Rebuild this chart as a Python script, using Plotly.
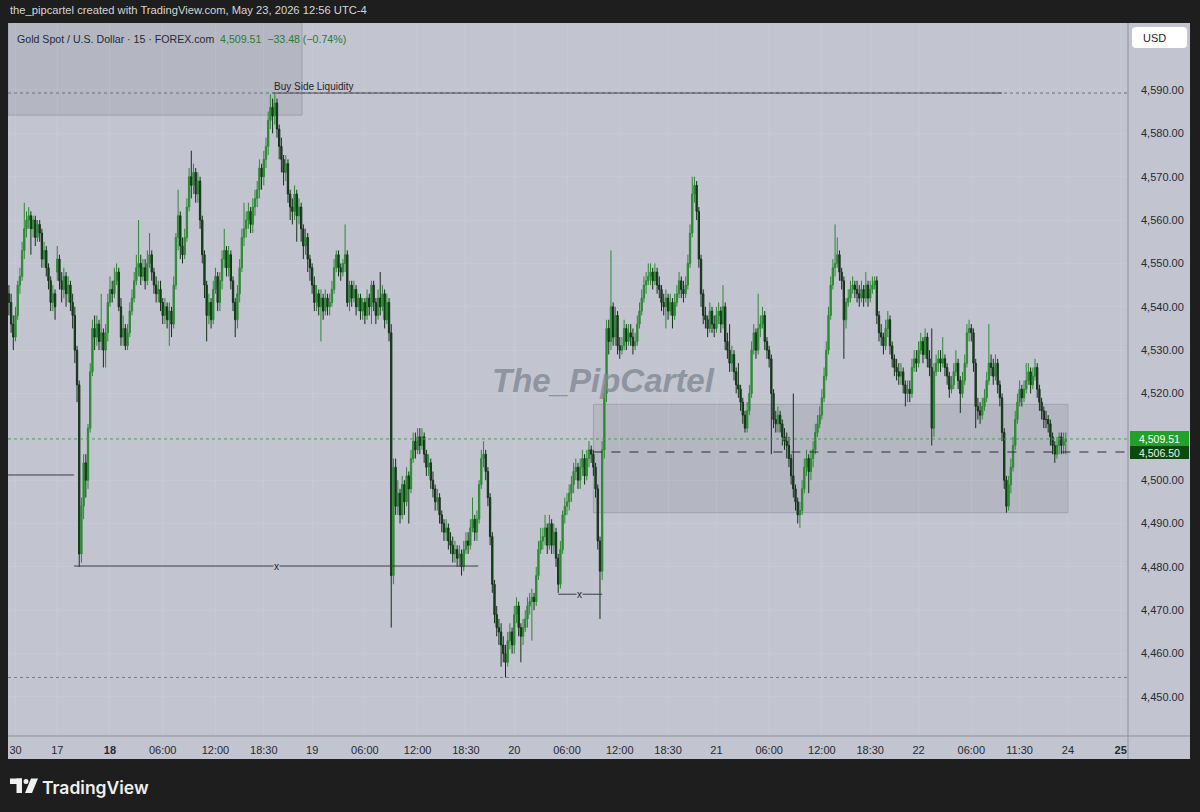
import plotly.graph_objects as go

# ---------------- data (15-minute bars, XAU/USD) ----------------
# session start, in trading hours counted from May 18 00:00 (daily break 17:00-18:00, weekend removed)
session_start_h = [-11.5, -6, 0, 23, 46, 69, 92]

fri15_open0 = 4543
fri15_close = [4541,4536,4533,4538,4545,4547,4553,4558,4560,4561,4558,4560,4556,4559,4557,4551,4553,4549,4546,4541,4543,4540]
fri15_high = [4545,4543,4538,4540,4546,4549,4555,4564,4562,4563,4562,4561,4561,4560,4560,4558,4555,4554,4550,4547,4545,4544]
fri15_low = [4538,4534,4530,4532,4537,4543,4546,4551,4556,4558,4552,4556,4554,4555,4555,4549,4549,4547,4544,4539,4539,4537]

sun17_open0 = 4548
sun17_close = [4551,4546,4544,4547,4543,4545,4541,4538,4530,4522,4483,4494,4504,4500,4512,4525,4535,4533,4536,4532,4534,4530,4534,4541]
sun17_high = [4554,4552,4548,4549,4548,4547,4546,4543,4540,4531,4523,4496,4506,4506,4513,4527,4537,4538,4538,4537,4543,4535,4536,4543]
sun17_low = [4546,4544,4541,4542,4540,4541,4539,4535,4527,4518,4480,4481,4491,4496,4498,4511,4524,4530,4531,4530,4530,4526,4526,4532]

mon18_open0 = 4541
mon18_close = [4544,4543,4546,4548,4540,4533,4535,4531,4534,4539,
               4542,4546,4549,4550,4547,4549,4546,4550,4552,4548,
               4545,4543,4544,4541,4538,4540,4537,4539,4536,4545,
               4556,4561,4554,4552,4556,4563,4570,4568,4571,4566,
               4569,4560,4552,4545,4538,4541,4537,4544,4547,4541,
               4546,4551,4553,4549,4552,4546,4541,4537,4543,4549,
               4556,4558,4560,4562,4559,4563,4565,4567,4572,4570,
               4574,4577,4583,4586,4584,4587,4581,4577,4574,4571,
               4573,4566,4563,4562,4566,4561,4563,4558,4554,4556,
               4551,4549]
mon18_high = [4547,4546,4549,4550,4549,4542,4538,4536,4536,4541,
              4544,4548,4552,4560,4552,4551,4551,4553,4557,4553,
              4549,4547,4546,4546,4542,4542,4541,4541,4540,4547,
              4557,4567,4562,4556,4558,4565,4572,4576,4573,4572,
              4571,4570,4561,4553,4546,4543,4542,4546,4549,4548,
              4548,4553,4558,4554,4554,4553,4547,4542,4545,4551,
              4558,4564,4562,4564,4563,4565,4567,4569,4574,4573,
              4576,4579,4585,4589,4588,4589.3,4588,4582,4579,4575,
              4575,4574,4567,4565,4568,4567,4565,4564,4559,4558,
              4557,4552]
mon18_low = [4540,4541,4542,4545,4539,4531,4531,4530,4530,4533,
             4538,4541,4545,4547,4545,4546,4544,4545,4549,4546,
             4543,4541,4541,4539,4536,4536,4535,4531,4533,4535,
             4544,4553,4551,4550,4551,4555,4562,4565,4566,4564,
             4564,4558,4550,4542,4532,4536,4535,4536,4543,4539,
             4539,4544,4549,4547,4547,4544,4539,4533,4535,4541,
             4548,4554,4556,4558,4557,4557,4561,4563,4565,4567,
             4568,4572,4575,4581,4580,4582,4579,4574,4571,4568,
             4569,4564,4560,4559,4560,4555,4559,4555,4551,4552,
             4548,4546]

tue19_open0 = 4549
tue19_close = [4545,4541,4543,4540,4542,4539,4542,4540,4541,4544,
               4549,4552,4549,4548,4550,4552,4541,4545,4542,4544,
               4540,4542,4539,4541,4538,4542,4540,4545,4541,4538,
               4542,4540,4543,4537,4541,4534,4478,4503,4494,4497,
               4492,4499,4495,4501,4498,4505,4509,4507,4510,4508,
               4510,4506,4503,4504,4500,4498,4495,4496,4492,4490,
               4488,4489,4486,4485,4483,4484,4482,4483,4480,4484,
               4486,4485,4489,4491,4488,4491,4499,4505,4506,4502,
               4496,4487,4476,4469,4466,4465,4462,4460,4458,4463,
               4465,4462]
tue19_high = [4550,4547,4545,4544,4544,4543,4544,4543,4543,4546,
              4551,4553,4553,4550,4551,4559,4553,4546,4546,4546,
              4545,4543,4543,4542,4542,4544,4543,4546,4546,4542,
              4544,4548,4545,4544,4543,4542,4536,4505,4505,4500,
              4498,4501,4500,4503,4502,4507,4511,4511,4512,4512,
              4512,4511,4507,4506,4505,4502,4499,4498,4497,4493,
              4491,4491,4490,4488,4487,4486,4485,4485,4484,4486,
              4488,4488,4491,4496,4492,4493,4500,4507,4509,4507,
              4503,4497,4488,4477,4471,4468,4467,4464,4462,4465,
              4467,4466]
tue19_low = [4543,4539,4539,4538,4532,4537,4538,4538,4538,4540,
             4543,4548,4547,4546,4547,4548,4540,4539,4540,4541,
             4538,4539,4537,4537,4536,4537,4538,4536,4539,4536,
             4537,4538,4539,4535,4536,4532,4466,4476,4492,4492,
             4490,4491,4492,4494,4490,4497,4504,4505,4506,4506,
             4507,4504,4501,4501,4498,4496,4493,4493,4490,4488,
             4486,4486,4484,4483,4481,4481,4480,4480,4478,4479,
             4483,4483,4484,4488,4486,4486,4490,4498,4503,4500,
             4494,4485,4474,4467,4464,4462,4457,4458,4454.5,4457,
             4461,4460]

wed20_open0 = 4462
wed20_close = [4469,4471,4466,4464,4466,4468,4471,4472,4473,4472,
               4478,4484,4486,4487,4489,4485,4490,4485,4488,4482,
               4476,4484,4492,4494,4495,4497,4499,4502,4503,4500,
               4503,4505,4501,4505,4507,4506,4503,4498,4486,4479,
               4507,4520,4535,4532,4540,4533,4538,4531,4530,4531,
               4535,4532,4534,4533,4531,4532,4536,4539,4542,4545,
               4546,4547,4548,4546,4548,4545,4544,4541,4540,4542,
               4539,4541,4538,4541,4543,4546,4544,4543,4545,4550,
               4557,4566,4568,4562,4551,4543,4538,4537,4535,4539,
               4536,4535]
wed20_high = [4471,4473,4472,4467,4468,4470,4473,4474,4475,4474,
              4480,4486,4489,4489,4492,4490,4492,4491,4490,4489,
              4483,4486,4493,4496,4497,4499,4501,4504,4505,4504,
              4505,4507,4506,4507,4509,4508,4507,4504,4499,4487,
              4509,4522,4537,4537,4553,4541,4540,4539,4533,4533,
              4537,4536,4536,4536,4535,4534,4538,4541,4544,4547,
              4548,4550,4550,4549,4550,4549,4547,4545,4543,4544,
              4543,4543,4542,4543,4545,4548,4547,4546,4547,4552,
              4559,4570,4570,4569,4563,4552,4544,4540,4538,4541,
              4540,4538]
wed20_low = [4460,4467,4464,4458,4462,4465,4466,4469,4463,4470,
             4471,4477,4483,4484,4485,4483,4484,4483,4483,4480,
             4474,4475,4483,4490,4492,4493,4495,4497,4500,4498,
             4498,4501,4499,4500,4503,4504,4501,4496,4484,4468,
             4477,4505,4518,4529,4530,4531,4531,4529,4528,4529,
             4530,4530,4531,4531,4529,4530,4531,4535,4538,4541,
             4543,4545,4545,4544,4545,4543,4542,4539,4538,4535,
             4537,4538,4535,4537,4540,4542,4542,4541,4542,4544,
             4549,4556,4564,4560,4549,4540,4536,4535,4533,4534,
             4534,4533]

thu21_open0 = 4535
thu21_close = [4538,4539,4536,4540,4532,4530,4527,4529,4525,4522,
               4521,4518,4515,4512,4516,4520,4530,4534,4530,4535,
               4536,4538,4532,4530,4528,4520,4514,4513,4515,4513,
               4510,4509,4508,4505,4501,4498,4495,4492,4493,4498,
               4503,4505,4502,4505,4507,4511,4513,4515,4519,4524,
               4530,4538,4545,4549,4550,4552,4548,4546,4537,4541,
               4542,4544,4545,4544,4543,4542,4544,4542,4545,4542,
               4544,4545,4546,4538,4534,4533,4531,4535,4537,4531,
               4528,4526,4525,4524,4525,4522,4520,4521,4520,4526,
               4528,4527]
thu21_high = [4540,4541,4540,4545,4541,4534,4536,4531,4530,4526,
              4527,4522,4519,4516,4518,4522,4532,4536,4535,4543,
              4538,4540,4539,4533,4531,4529,4521,4516,4517,4516,
              4514,4512,4511,4510,4506,4520,4499,4496,4495,4500,
              4505,4507,4506,4507,4509,4513,4515,4517,4521,4526,
              4532,4540,4547,4551,4559,4556,4553,4549,4547,4542,
              4544,4546,4547,4546,4546,4545,4546,4545,4548,4546,
              4546,4547,4547,4547,4539,4536,4534,4537,4539,4538,
              4532,4529,4528,4527,4527,4526,4523,4523,4523,4528,
              4530,4530]
thu21_low = [4534,4536,4534,4535,4530,4528,4525,4525,4523,4520,
             4519,4516,4513,4511,4511,4515,4519,4529,4528,4529,
             4533,4535,4530,4528,4526,4506,4512,4511,4511,4511,
             4508,4507,4505,4503,4499,4496,4493,4490,4489,4492,
             4497,4501,4497,4500,4503,4506,4510,4512,4514,4518,
             4523,4529,4537,4544,4547,4549,4546,4544,4528,4535,
             4540,4541,4543,4542,4541,4540,4541,4540,4541,4540,
             4541,4543,4544,4536,4532,4531,4529,4530,4533,4529,
             4526,4524,4523,4522,4522,4520,4517,4518,4518,4519,
             4525,4525]

fri22_open0 = 4527
fri22_close = [4530,4532,4529,4533,4528,4526,4512,4525,4527,4528,
               4527,4528,4526,4524,4521,4522,4525,4527,4523,4520,
               4523,4527,4534,4535,4534,4527,4517,4516,4515,4517,
               4519,4523,4527,4526,4524,4527,4522,4519,4511,4500,
               4494,4499,4503,4508,4514,4518,4521,4519,4521,4523,
               4525,4522,4524,4526,4521,4518,4516,4514,4514,4513,
               4510,4508,4506,4508,4510,4508,4509,4509.51]
fri22_high = [4532,4534,4533,4535,4534,4530,4535,4527,4529,4530,
              4530,4533,4529,4527,4525,4524,4527,4530,4528,4524,
              4525,4529,4536,4537,4536,4535,4528,4519,4518,4519,
              4521,4525,4536,4529,4528,4529,4528,4523,4520,4512,
              4501,4501,4505,4510,4516,4520,4523,4522,4523,4527,
              4527,4526,4526,4528,4527,4522,4519,4517,4516,4515,
              4514,4511,4509,4510,4511,4511,4511,4511]
fri22_low = [4526,4529,4527,4528,4526,4524,4508,4510,4524,4525,
             4525,4526,4524,4522,4519,4520,4521,4524,4521,4515.5,
             4519,4522,4526,4532,4532,4525,4512,4514,4513,4514,
             4516,4518,4522,4524,4522,4523,4520,4517,4509,4498,
             4492.5,4493,4497,4502,4507,4513,4517,4517,4518,4520,
             4522,4520,4521,4523,4519,4516,4514,4512,4512,4511,
             4508,4506,4504,4505,4506,4506,4506,4506]

# time-axis ticks (trading hours) and their labels
tick_hours = [-10.75, -6, 0, 6, 12, 17.5, 23, 29, 35, 40.5, 46, 52, 58, 63.5, 69, 75, 81, 86.5, 92, 98, 103.5, 109, 115]
tick_labels = ["30", "17", "<b>18</b>", "06:00", "12:00", "18:30", "19", "06:00", "12:00", "18:30", "20",
               "06:00", "12:00", "18:30", "21", "06:00", "12:00", "18:30", "22", "06:00", "11:30", "24", "<b>25</b>"]
# 4,510.00 is hidden behind the price badges in the reference
price_ticks = [4450, 4460, 4470, 4480, 4490, 4500, 4520, 4530, 4540, 4550, 4560, 4570, 4580, 4590]

# header / legend values
last_price = 4509.51
change_abs = -33.48
change_pct = -0.74

# drawings (time in trading hours, price)
bsl_level = 4589.3
bsl_start_h, bsl_end_h = 18.5, 101.5
top_zone = (-11.6, 21.85, 4584.2, 4606.0)
fvg_zone = (55.0, 109.0, 4492.5, 4517.5)
mid_level = 4506.5
low_level = 4454.5
eq_level_a = (4501.2, -11.6, -4.1)
eq_level_b = (4480.2, -4.1, 41.9, 18.9)
eq_level_c = (4473.7, 51.0, 56.0, 53.4)

# ---------------- build bars ----------------
sessions = [
    (fri15_open0, fri15_close, fri15_high, fri15_low),
    (sun17_open0, sun17_close, sun17_high, sun17_low),
    (mon18_open0, mon18_close, mon18_high, mon18_low),
    (tue19_open0, tue19_close, tue19_high, tue19_low),
    (wed20_open0, wed20_close, wed20_high, wed20_low),
    (thu21_open0, thu21_close, thu21_high, thu21_low),
    (fri22_open0, fri22_close, fri22_high, fri22_low),
]
xs, O, H, L, C = [], [], [], [], []
for start, (o0, cl, hi, lo) in zip(session_start_h, sessions):
    assert len(cl) == len(hi) == len(lo)
    prev = o0
    for i, (c, h, l) in enumerate(zip(cl, hi, lo)):
        xs.append(start + 0.25 * i)
        O.append(prev)
        C.append(c)
        H.append(max(h, prev, c))
        L.append(min(l, prev, c))
        prev = c

# ---------------- styling ----------------
W, Hh = 1200, 812
PL, PR, PT, PB = 8, 1128, 23, 736
FRAME = "#1e1e1e"
PANEL = "#c2c4cf"
TXT = "#262a33"
UP = "#2c8a33"
DN_FILL = "#0b5210"
DN_LINE = "#15301a"
XR = [-11.605, 115.83]
YR = [4441.0, 4605.45]
FONT = "Liberation Sans, Arial"


def px(xp):
    return (xp - PL) / (PR - PL)


def py(yp):
    return (PB - yp) / (PB - PT)


fig = go.Figure()
fig.add_trace(go.Candlestick(
    x=xs, open=O, high=H, low=L, close=C,
    increasing=dict(line=dict(color=UP, width=1), fillcolor=UP),
    decreasing=dict(line=dict(color=DN_LINE, width=1), fillcolor=DN_FILL),
    whiskerwidth=0, showlegend=False, hoverinfo="skip"))

shapes = []
# chart panel background (plot + axes)
shapes.append(dict(type="rect", xref="paper", yref="paper", x0=px(8), x1=px(1190), y0=py(759), y1=py(23),
                   fillcolor=PANEL, line=dict(width=0), layer="below"))
# axis separators
shapes.append(dict(type="line", xref="paper", yref="paper", x0=1, x1=1, y0=py(759), y1=1,
                   line=dict(color="#8d909b", width=1)))
shapes.append(dict(type="line", xref="paper", yref="paper", x0=0, x1=px(1190), y0=0, y1=0,
                   line=dict(color="#8d909b", width=1)))
# zones
shapes.append(dict(type="rect", xref="x", yref="y", x0=top_zone[0], x1=top_zone[1], y0=top_zone[2], y1=top_zone[3],
                   fillcolor="rgba(110,114,130,0.16)", line=dict(color="rgba(110,114,130,0.35)", width=1), layer="below"))
shapes.append(dict(type="rect", xref="x", yref="y", x0=fvg_zone[0], x1=fvg_zone[1], y0=fvg_zone[2], y1=fvg_zone[3],
                   fillcolor="rgba(110,114,130,0.16)", line=dict(color="rgba(110,114,130,0.35)", width=1), layer="below"))
# buy side liquidity
shapes.append(dict(type="line", xref="paper", yref="y", x0=0, x1=1, y0=bsl_level, y1=bsl_level,
                   line=dict(color="#6e717c", width=1, dash="dot")))
shapes.append(dict(type="line", xref="x", yref="y", x0=bsl_start_h, x1=bsl_end_h, y0=bsl_level, y1=bsl_level,
                   line=dict(color="#4a4d57", width=1)))
# last price / low dotted lines
shapes.append(dict(type="line", xref="paper", yref="y", x0=0, x1=1, y0=last_price, y1=last_price,
                   line=dict(color="#4f9a55", width=1, dash="dot")))
shapes.append(dict(type="line", xref="paper", yref="y", x0=0, x1=1, y0=low_level, y1=low_level,
                   line=dict(color="#7a7d88", width=1, dash="dot")))
# mid dashed
shapes.append(dict(type="line", xref="x", yref="y", x0=fvg_zone[0], x1=XR[1], y0=mid_level, y1=mid_level,
                   line=dict(color="#2a2d35", width=1, dash="dash")))
# equal lows lines
for lvl in (eq_level_a, eq_level_b, eq_level_c):
    shapes.append(dict(type="line", xref="x", yref="y", x0=lvl[1], x1=lvl[2], y0=lvl[0], y1=lvl[0],
                       line=dict(color="#3a3d47", width=1)))
# price badges
shapes.append(dict(type="rect", xref="paper", yref="paper", x0=px(1130), x1=px(1189), y0=py(459), y1=py(446),
                   fillcolor="#0b4a0e", line=dict(width=0)))
shapes.append(dict(type="rect", xref="paper", yref="paper", x0=px(1130), x1=px(1189), y0=py(446), y1=py(431),
                   fillcolor="#23a02a", line=dict(width=0)))


def rrect(x0, y0, x1, y1, r):
    X, Y = px, py
    return (f"M {X(x0+r)},{Y(y0)} L {X(x1-r)},{Y(y0)} Q {X(x1)},{Y(y0)} {X(x1)},{Y(y0+r)} "
            f"L {X(x1)},{Y(y1-r)} Q {X(x1)},{Y(y1)} {X(x1-r)},{Y(y1)} L {X(x0+r)},{Y(y1)} "
            f"Q {X(x0)},{Y(y1)} {X(x0)},{Y(y1-r)} L {X(x0)},{Y(y0+r)} Q {X(x0)},{Y(y0)} {X(x0+r)},{Y(y0)} Z")


# USD button (rounded)
shapes.append(dict(type="path", xref="paper", yref="paper", path=rrect(1132, 27, 1187, 48, 4),
                   fillcolor="#ffffff", line=dict(width=0)))
# TradingView logo mark
LOGO = "#f0f0f0"
shapes.append(dict(type="rect", xref="paper", yref="paper", x0=px(10), x1=px(22), y0=py(784), y1=py(778.5),
                   fillcolor=LOGO, line=dict(width=0)))
shapes.append(dict(type="rect", xref="paper", yref="paper", x0=px(16.5), x1=px(22), y0=py(793), y1=py(778.5),
                   fillcolor=LOGO, line=dict(width=0)))
shapes.append(dict(type="circle", xref="paper", yref="paper", x0=px(23.5), x1=px(28.5), y0=py(784), y1=py(779),
                   fillcolor=LOGO, line=dict(width=0)))
shapes.append(dict(type="path", xref="paper", yref="paper",
                   path=f"M {px(31)},{py(778.5)} L {px(38)},{py(778.5)} L {px(32)},{py(793)} L {px(25)},{py(793)} Z",
                   fillcolor=LOGO, line=dict(width=0)))

sign = "\u2212" if change_abs < 0 else "+"
annotations = [
    dict(xref="paper", yref="paper", x=px(8), y=py(10), text="the_pipcartel created with TradingView.com, May 23, 2026 12:56 UTC-4",
         showarrow=False, xanchor="left", yanchor="middle", font=dict(family=FONT, size=11.2, color="#d6d6d6")),
    dict(xref="paper", yref="paper", x=px(15), y=py(39),
         text=("Gold Spot / U.S. Dollar \u00b7 15 \u00b7 FOREX.com&nbsp;&nbsp;"
               f"<span style='color:#2c7a33'>{last_price:,.2f}&nbsp; {sign}{abs(change_abs):.2f} ({sign}{abs(change_pct):.2f}%)</span>"),
         showarrow=False, xanchor="left", yanchor="middle", font=dict(family=FONT, size=10.6, color=TXT)),
    dict(xref="paper", yref="paper", x=px(603), y=py(380), text="<b><i>The_PipCartel</i></b>", showarrow=False,
         xanchor="center", yanchor="middle", font=dict(family=FONT, size=33, color="rgba(128,135,148,0.8)")),
    dict(xref="x", yref="y", x=bsl_start_h, y=bsl_level, text="Buy Side Liquidity", showarrow=False, xanchor="left",
         yanchor="bottom", yshift=-1, xshift=-1, font=dict(family=FONT, size=10, color="#22252c")),
    dict(xref="x", yref="y", x=eq_level_b[3], y=eq_level_b[0], text="x", showarrow=False, xanchor="center", yanchor="middle",
         bgcolor=PANEL, borderpad=0, font=dict(family=FONT, size=10, color="#22252c")),
    dict(xref="x", yref="y", x=eq_level_c[3], y=eq_level_c[0], text="x", showarrow=False, xanchor="center", yanchor="middle",
         bgcolor=PANEL, borderpad=0, font=dict(family=FONT, size=10, color="#22252c")),
    dict(xref="paper", yref="paper", x=px(1141), y=py(38), text="USD", showarrow=False, xanchor="left", yanchor="middle",
         font=dict(family=FONT, size=11, color="#1e1e1e")),
    dict(xref="paper", yref="paper", x=px(1159.5), y=py(438.5), text=f"{last_price:,.2f}", showarrow=False, xanchor="center",
         yanchor="middle", font=dict(family=FONT, size=10.5, color="#ffffff")),
    dict(xref="paper", yref="paper", x=px(1159.5), y=py(453), text=f"{mid_level:,.2f}", showarrow=False, xanchor="center",
         yanchor="middle", font=dict(family=FONT, size=10.5, color="#e8f5e8")),
    dict(xref="paper", yref="paper", x=px(40), y=py(787), text="TradingView", showarrow=False, xanchor="left", yanchor="middle",
         font=dict(family="Inter", size=17.5, color=LOGO, weight=600)),
]

fig.update_layout(
    width=W, height=Hh,
    margin=dict(l=PL, r=W - PR, t=PT, b=Hh - PB, pad=0),
    paper_bgcolor=FRAME, plot_bgcolor="rgba(0,0,0,0)",
    boxgap=0.15,
    shapes=shapes, annotations=annotations, showlegend=False,
    xaxis=dict(range=XR, tickmode="array", tickvals=tick_hours, ticktext=tick_labels,
               tickfont=dict(family=FONT, size=11, color=TXT),
               showgrid=True, gridcolor="rgba(255,255,255,0.07)", zeroline=False, showline=False,
               ticks="", ticklabelstandoff=6, rangeslider=dict(visible=False), fixedrange=True),
    yaxis=dict(range=YR, side="right", tickmode="array", tickvals=price_ticks,
               ticktext=[f"{v:,.2f}" for v in price_ticks],
               tickfont=dict(family=FONT, size=11, color=TXT),
               showgrid=True, gridcolor="rgba(255,255,255,0.07)", zeroline=False, showline=False,
               ticks="", ticklabelstandoff=12, fixedrange=True),
)

fig.write_html("out.html", config={"displayModeBar": False},
               post_script="document.body.style.margin='0px';document.body.style.overflow='hidden';")
